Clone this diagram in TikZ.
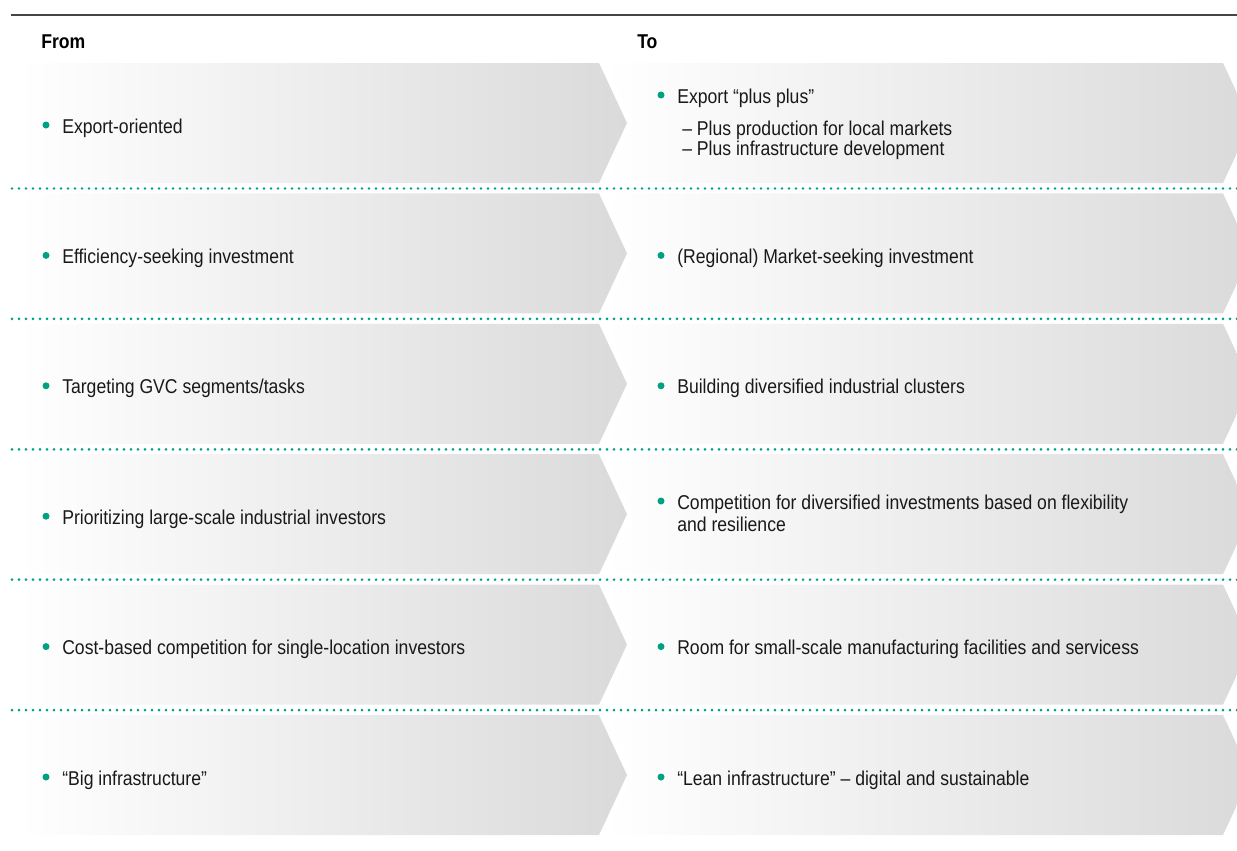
\documentclass[tikz,border=0pt]{standalone}
\usepackage{fontspec}
\setmainfont{Liberation Sans}[FakeStretch=0.88]
\usetikzlibrary{calc,positioning}
\definecolor{DotClr}{RGB}{0,160,130}
\definecolor{RuleClr}{RGB}{70,70,70}
\definecolor{ShadeClr}{RGB}{218,218,218}
\definecolor{TextClr}{RGB}{25,25,25}

\tikzset{
  item/.style={anchor=base west,inner sep=0pt,align=left,text=TextClr,font=\fontsize{15}{16.5}\selectfont},
  subitem/.style={item,font=\fontsize{15}{13.5}\selectfont},
  head/.style={anchor=base west,inner sep=0pt,text=black,font=\bfseries\fontsize{15}{18}\selectfont},
  sepline/.style={DotClr,line width=2.2pt,line cap=round,dash pattern=on 0pt off 5.25pt},
  chevron/.style={left color=white,right color=ShadeClr,draw=none},
  bulletdot/.style={fill=DotClr}
}

\begin{document}
\begin{tikzpicture}[x=0.75pt,y=-0.75pt]
\useasboundingbox (0,0) rectangle (1237,850);
\clip (0,0) rectangle (1237,850);

% rows of chevrons
\foreach \r in {0,...,5}{
  \pgfmathsetmacro{\t}{63+130.4*\r}
  \shade[chevron] (18,\t) -- (599,\t) -- (627,\t+60) -- (599,\t+120) -- (18,\t+120) -- cycle;
  \shade[chevron] (605,\t) -- (1223,\t) -- (1251,\t+60) -- (1223,\t+120) -- (605,\t+120) -- (633,\t+60) -- cycle;
}
\foreach \r in {0,...,4}{
  \pgfmathsetmacro{\t}{63+130.4*\r}
  \draw[sepline] (12,\t+125.5) -- (1237,\t+125.5);
}

\draw[RuleClr,line width=1.1pt] (11,15) -- (1237,15);

\node[head] (from) at (41,48) {From};
\node[head] (to) at (637,48) {To};

% from column
\node[item] (from1) at (62,133) {Export-oriented};
\node[item] (from2) at (62,263.4) {Efficiency-seeking investment};
\node[item] (from3) at (62,393.8) {Targeting GVC segments/tasks};
\node[item] (from4) at (62,524.2) {Prioritizing large-scale industrial investors};
\node[item] (from5) at (62,654.6) {Cost-based competition for single-location investors};
\node[item] (from6) at (62,785) {“Big infrastructure”};

% to column (base = last line)
\node[item] (to1) at (677,103) {Export “plus plus”};
\node[subitem] (to1a) at (682,155) {– Plus production for local markets\\– Plus infrastructure development};
\node[item] (to2) at (677,263.4) {(Regional) Market-seeking investment};
\node[item] (to3) at (677,393.8) {Building diversified industrial clusters};
\node[item] (to4) at (677,531) {Competition for diversified investments based on flexibility\\and resilience};
\node[item] (to5) at (677,654.6) {Room for small-scale manufacturing facilities and servicess};
\node[item] (to6) at (677,785) {“Lean infrastructure” – digital and sustainable};

\foreach \n in {from1,from2,from3,from4,from5,from6,to1,to2,to3,to5,to6}
  \fill[bulletdot] ($(\n.base west)+(-16,-8)$) circle (3.5);
\fill[bulletdot] ($(to4.base west)+(-16,-30)$) circle (3.5);

\end{tikzpicture}
\end{document}
